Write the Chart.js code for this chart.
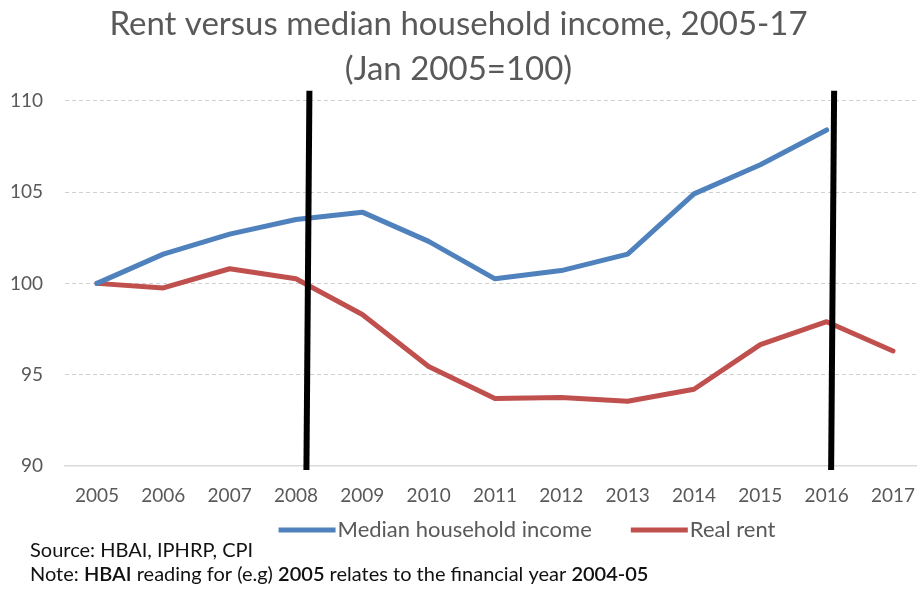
<!DOCTYPE html>
<html>
<head>
<meta charset="utf-8">
<script src="https://cdn.jsdelivr.net/npm/chart.js@4.4.0/dist/chart.umd.min.js"></script>
<style>
  body { margin: 0; background: #fff; }
  #wrap { width: 917px; height: 589px; }
</style>
</head>
<body>
<div id="wrap"><canvas id="chart" width="917" height="589"></canvas></div>
<script>
  var years = [2005, 2006, 2007, 2008, 2009, 2010, 2011, 2012, 2013, 2014, 2015, 2016, 2017];
  var incomeValues = [100, 101.6, 102.7, 103.5, 103.9, 102.3, 100.25, 100.7, 101.6, 104.9, 106.5, 108.4, null];
  var rentValues = [100, 99.75, 100.8, 100.25, 98.3, 95.45, 93.7, 93.75, 93.55, 94.2, 96.65, 97.9, 96.3];
  var yTicks = [90, 95, 100, 105, 110];
  // the two black marker lines (in year units on the x axis)
  var markerYears = [2008.18, 2016.09];

  var seriesNames = ["Median household income", "Real rent"];
  var seriesColors = ["#4F81BD", "#C0504D"];

  var FONT = "Lato, 'Open Sans', sans-serif";
  var GREY = "#595959";

  function points(values) {
    return years.map(function (y, i) {
      return { x: y, y: values[i] };
    });
  }

  var markerPlugin = {
    id: "markers",
    afterDatasetsDraw: function (chart) {
      var ctx = chart.ctx;
      var xs = chart.scales.x;
      var area = chart.chartArea;
      ctx.save();
      ctx.strokeStyle = "#000";
      ctx.lineWidth = 6;
      markerYears.forEach(function (m) {
        var px = xs.getPixelForValue(m);
        ctx.beginPath();
        ctx.moveTo(px + 1.5, area.top - 10);
        ctx.lineTo(px - 1.5, area.bottom + 4);
        ctx.stroke();
      });
      ctx.restore();
    },
  };

  var legendPlugin = {
    id: "lineLegend",
    afterDraw: function (chart) {
      var ctx = chart.ctx;
      var swatch = 57, gap = 2, between = 39, cy = 530;
      ctx.save();
      ctx.font = "22px " + FONT;
      var total = 0;
      seriesNames.forEach(function (n, i) {
        total += swatch + gap + ctx.measureText(n).width + (i ? 0 : between);
      });
      var x = 527 - total / 2;
      ctx.textBaseline = "middle";
      seriesNames.forEach(function (n, i) {
        ctx.fillStyle = seriesColors[i];
        ctx.fillRect(x, cy - 2.5, swatch, 5);
        x += swatch + gap;
        ctx.fillStyle = GREY;
        ctx.fillText(n, x, cy);
        x += ctx.measureText(n).width + between;
      });
      ctx.restore();
    },
  };

  var notes = [
    [["Source: HBAI, IPHRP, CPI", "normal"]],
    [["Note: ", "normal"], ["HBAI", "600"], [" reading for (e.g) ", "normal"], ["2005", "600"],
     [" relates to the financial year ", "normal"], ["2004-05", "600"]],
  ];

  var notesPlugin = {
    id: "notes",
    afterDraw: function (chart) {
      var ctx = chart.ctx;
      ctx.save();
      ctx.fillStyle = "#111";
      ctx.textBaseline = "middle";
      notes.forEach(function (line, i) {
        var x = 30, y = 551 + i * 24;
        line.forEach(function (seg) {
          ctx.font = seg[1] + " 20px " + FONT;
          ctx.fillText(seg[0], x, y);
          x += ctx.measureText(seg[0]).width;
        });
      });
      ctx.restore();
    },
  };

  new Chart(document.getElementById("chart"), {
    type: "line",
    data: {
      datasets: [
        {
          label: seriesNames[0],
          data: points(incomeValues),
          borderColor: seriesColors[0],
          backgroundColor: seriesColors[0],
          borderWidth: 5,
          pointRadius: 0,
          tension: 0,
          borderJoinStyle: "round",
          borderCapStyle: "round",
        },
        {
          label: seriesNames[1],
          data: points(rentValues),
          borderColor: seriesColors[1],
          backgroundColor: seriesColors[1],
          borderWidth: 5,
          pointRadius: 0,
          tension: 0,
          borderJoinStyle: "round",
          borderCapStyle: "round",
        },
      ],
    },
    options: {
      responsive: false,
      animation: false,
      layout: { padding: { top: 0, left: 0, right: 0, bottom: 83 } },
      plugins: {
        legend: { display: false },
        tooltip: { enabled: false },
        title: {
          display: true,
          text: ["Rent versus median household income, 2005-17", "(Jan 2005=100)"],
          color: GREY,
          font: { family: FONT, size: 33, weight: "normal", lineHeight: 1.36 },
          padding: { top: 2, bottom: 9 },
        },
      },
      scales: {
        x: {
          type: "linear",
          min: 2004.518,
          max: 2017.362,
          afterBuildTicks: function (s) {
            s.ticks = years.map(function (v) { return { value: v }; });
          },
          afterFit: function (s) {
            s.height = 40;
            s.paddingLeft = 0;
            s.paddingRight = 0;
          },
          grid: { display: false, drawTicks: false },
          border: { display: true, color: "#d9d9d9", width: 1.5 },
          ticks: {
            color: GREY,
            padding: 18,
            maxRotation: 0,
            autoSkip: false,
            font: { family: FONT, size: 19 },
            callback: function (v) { return String(v); },
          },
        },
        y: {
          min: 90,
          max: 110,
          afterBuildTicks: function (s) {
            s.ticks = yTicks.map(function (v) { return { value: v }; });
          },
          afterFit: function (s) { s.width = 65; },
          border: { display: false, dash: [4, 3] },
          grid: {
            drawTicks: false,
            color: function (c) { return c.tick && c.tick.value === 90 ? "rgba(0,0,0,0)" : "#d0d0d0"; },
            lineWidth: 1,
          },
          ticks: {
            color: GREY,
            padding: 22,
            font: { family: FONT, size: 19 },
          },
        },
      },
    },
    plugins: [markerPlugin, legendPlugin, notesPlugin],
  });
</script>
</body>
</html>
